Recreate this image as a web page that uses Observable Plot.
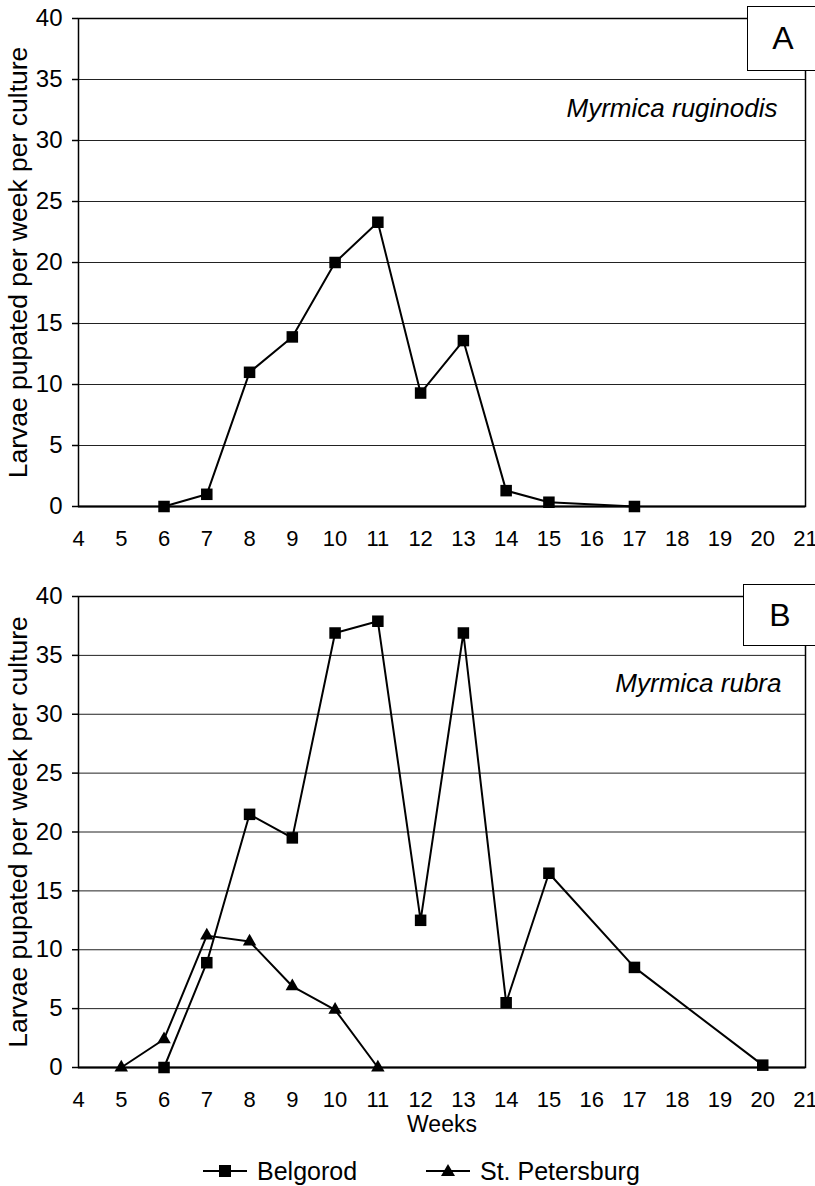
<!DOCTYPE html>
<html>
<head>
<meta charset="utf-8">
<script src="https://cdn.jsdelivr.net/npm/d3@7"></script>
<script src="https://cdn.jsdelivr.net/npm/@observablehq/plot@0.6"></script>
<style>
  html, body { margin: 0; padding: 0; background: #fff; overflow: hidden; }
  #wrap { position: relative; width: 815px; height: 1186px; overflow: hidden; font-family: "Liberation Sans", Arial, sans-serif; color: #000; }
  .panel { position: absolute; left: 0; }
  .tag { position: absolute; background: #fff; border: 1.5px solid #000; box-sizing: border-box; font-size: 32px; display: flex; align-items: center; justify-content: center; z-index: 5; }
  #legend { position: absolute; left: 0; top: 1156px; width: 815px; height: 30px; font-size: 25px; }
  .lg { position: absolute; top: 0; display: flex; align-items: center; height: 30px; }
  .lg svg { margin-right: 10px; }
</style>
</head>
<body>
<div id="wrap">
  <div class="panel" id="panelA" style="top:0"></div>
  <div class="panel" id="panelB" style="top:560px"></div>
  <div class="tag" style="left:747px; top:6px; width:72px; height:65px;">A</div>
  <div class="tag" style="left:743px; top:584px; width:74px; height:62px;">B</div>
  <div id="legend"></div>
</div>
<script>
// ---- data ----
const xTicks = [4,5,6,7,8,9,10,11,12,13,14,15,16,17,18,19,20,21];
const yTicks = [0,5,10,15,20,25,30,35,40];

// Panel A: Myrmica ruginodis, Belgorod
const weeksA = [6,7,8,9,10,11,12,13,14,15,17];
const belgorodA = [0,1,11,13.9,20,23.3,9.3,13.6,1.3,0.35,0];

// Panel B: Myrmica rubra
const weeksBBelgorod = [6,7,8,9,10,11,12,13,14,15,17,20];
const belgorodB = [0,8.9,21.5,19.5,36.9,37.9,12.5,36.9,5.5,16.5,8.5,0.2];
const weeksBSpb = [5,6,7,8,9,10,11];
const spbB = [0,2.4,11.2,10.7,6.9,4.9,0];

const seriesNames = ["Belgorod", "St. Petersburg"];
const yTitle = "Larvae pupated per week per culture";
const xTitle = "Weeks";
const speciesA = "Myrmica ruginodis";
const speciesB = "Myrmica rubra";

const toRows = (weeks, vals, series) => weeks.map((w, i) => ({week: w, value: vals[i], series}));
const dataA = toRows(weeksA, belgorodA, seriesNames[0]);
const dataB1 = toRows(weeksBBelgorod, belgorodB, seriesNames[0]);
const dataB2 = toRows(weeksBSpb, spbB, seriesNames[1]);

const font = "'Liberation Sans', Arial, sans-serif";

function panel({height, marginTop, marginBottom, species, speciesDx, speciesDy, belgorod, spb, showXTitle}) {
  const marks = [
    Plot.ruleY(yTicks, {stroke: "#222", strokeWidth: 1}),
    Plot.ruleY([0], {stroke: "#000", strokeWidth: 2}),
    Plot.axisX(xTicks, {tickSize: 0, tickPadding: 24, fontSize: 22, label: null}),
    Plot.axisY(yTicks, {tickSize: 6, tickPadding: 10, fontSize: 24, label: null, strokeWidth: 1.5}),
    Plot.frame({stroke: "#000", strokeWidth: 1.5}),
    Plot.text([yTitle], {frameAnchor: "left", rotate: -90, dx: -60, fontSize: 26.5, textAnchor: "middle", lineAnchor: "middle"}),
    Plot.text([species], {frameAnchor: "top-right", dx: speciesDx, dy: speciesDy, fontSize: 26, fontStyle: "italic", textAnchor: "end", lineAnchor: "middle"}),
    Plot.line(belgorod, {x: "week", y: "value", stroke: "#000", strokeWidth: 2}),
    Plot.dot(belgorod, {x: "week", y: "value", symbol: "square", r: 6.5, fill: "#000", stroke: "none"})
  ];
  if (spb) {
    marks.push(Plot.line(spb, {x: "week", y: "value", stroke: "#000", strokeWidth: 2}));
    marks.push(Plot.dot(spb, {x: "week", y: "value", symbol: "triangle", r: 5, fill: "#000", stroke: "none"}));
  }
  if (showXTitle) {
    marks.push(Plot.text([xTitle], {frameAnchor: "bottom", dy: 57, fontSize: 23, textAnchor: "middle", lineAnchor: "middle"}));
  }
  return Plot.plot({
    width: 815, height, marginTop, marginBottom, marginLeft: 78, marginRight: 10,
    style: {fontFamily: font, color: "#000", background: "transparent", overflow: "visible"},
    x: {domain: [4, 21]},
    y: {domain: [0, 40]},
    marks
  });
}

document.getElementById("panelA").append(panel({
  height: 560, marginTop: 18, marginBottom: 54,
  species: speciesA, speciesDx: -28, speciesDy: 90,
  belgorod: dataA, spb: null, showXTitle: false
}));
document.getElementById("panelB").append(panel({
  height: 600, marginTop: 36, marginBottom: 93,
  species: speciesB, speciesDx: -24, speciesDy: 87,
  belgorod: dataB1, spb: dataB2, showXTitle: true
}));

// legend
const legend = document.getElementById("legend");
const sym = {
  "Belgorod": '<rect x="16" y="9" width="12" height="12" fill="#000"/>',
  "St. Petersburg": '<path d="M22,8 L29,20 L15,20 Z" fill="#000"/>'
};
const lgLeft = [203, 426];
seriesNames.forEach((name, i) => {
  const d = document.createElement("div");
  d.className = "lg";
  d.style.left = lgLeft[i] + "px";
  d.innerHTML = `<svg width="44" height="30"><line x1="0" x2="44" y1="15" y2="15" stroke="#000" stroke-width="2"/>${sym[name]}</svg><span>${name}</span>`;
  legend.append(d);
});
</script>
</body>
</html>
